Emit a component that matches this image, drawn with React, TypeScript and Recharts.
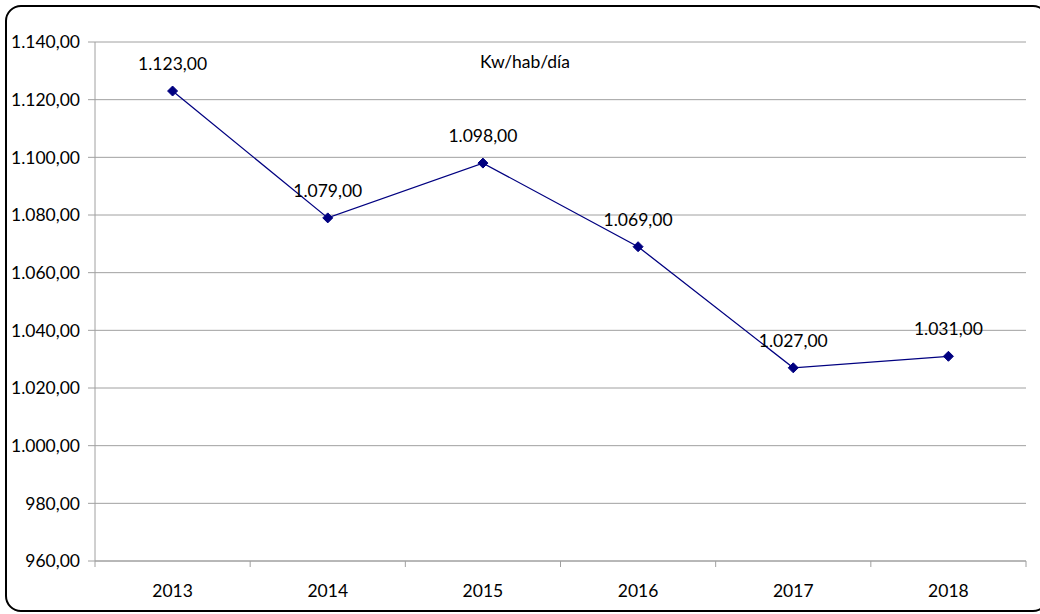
import { LineChart, Line, XAxis, YAxis, CartesianGrid, LabelList } from 'recharts'

const years = ['2013', '2014', '2015', '2016', '2017', '2018']
const consumo = [1123, 1079, 1098, 1069, 1027, 1031]
const yTicks = [960, 980, 1000, 1020, 1040, 1060, 1080, 1100, 1120, 1140]
const title = 'Kw/hab/día'

const data = years.map((y, i) => ({ year: y, value: consumo[i] }))

const FONT = 'Lato, "Open Sans", sans-serif'
const FS = 17.5
const GRID = '#a0a0a0'
const NAVY = '#000080'

function fmt(v: number) {
  const [int, dec] = v.toFixed(2).split('.')
  return `${int.replace(/\B(?=(\d{3})+(?!\d))/g, '.')},${dec}`
}

// eslint-disable-next-line @typescript-eslint/no-explicit-any
function Diamond({ cx, cy }: any) {
  if (cx == null || cy == null) return null
  const s = 5
  return (
    <polygon
      points={`${cx},${cy - s} ${cx + s},${cy} ${cx},${cy + s} ${cx - s},${cy}`}
      fill={NAVY}
      stroke={NAVY}
    />
  )
}

// ticks sit on the category boundaries, labels in the middle
// eslint-disable-next-line @typescript-eslint/no-explicit-any
function YearTick({ x, y, payload, index }: any) {
  const half = payload.offset || 77.6
  return (
    <g>
      <line x1={x - half} y1={y} x2={x - half} y2={y + 6} stroke={GRID} />
      {index === years.length - 1 && (
        <line x1={x + half} y1={y} x2={x + half} y2={y + 6} stroke={GRID} />
      )}
      <text x={x} y={y + 36} textAnchor="middle" fontSize={FS} fontFamily={FONT} fill="#000">
        {payload.value}
      </text>
    </g>
  )
}

export default function App() {
  return (
    <div style={{ position: 'absolute', left: 0, top: 0, width: 1040, height: 614, background: '#fff' }}>
      <div
        style={{
          position: 'absolute',
          left: 5,
          top: 5,
          width: 1040,
          height: 603,
          border: '2px solid #000',
          borderRadius: 16,
        }}
      />
      <div
        style={{
          position: 'absolute',
          left: 425,
          width: 200,
          top: 51,
          textAlign: 'center',
          fontFamily: FONT,
          fontSize: FS,
          color: '#000',
        }}
      >
        {title}
      </div>
      <LineChart
        width={1040}
        height={614}
        data={data}
        margin={{ top: 42, right: 14, left: 5, bottom: 23 }}
        style={{ position: 'absolute', left: 0, top: 0 }}
      >
        <CartesianGrid vertical={false} stroke={GRID} />
        <XAxis
          dataKey="year"
          scale="band"
          axisLine={{ stroke: GRID }}
          tickLine={false}
          tickSize={0}
          tickMargin={0}
          height={30}
          tick={<YearTick />}
          interval={0}
        />
        <YAxis
          domain={[960, 1140]}
          ticks={yTicks}
          tickFormatter={fmt}
          axisLine={{ stroke: GRID }}
          tickLine={{ stroke: GRID }}
          tickSize={7}
          tickMargin={8}
          width={90}
          tick={{ fill: '#000', fontSize: FS, fontFamily: FONT }}
        />
        <Line
          dataKey="value"
          stroke={NAVY}
          strokeWidth={1.3}
          dot={<Diamond />}
          activeDot={false}
          isAnimationActive={false}
        >
          <LabelList
            dataKey="value"
            position="top"
            offset={21}
            formatter={(v: number) => fmt(v)}
            style={{ fill: '#000', fontSize: FS, fontFamily: FONT }}
          />
        </Line>
      </LineChart>
    </div>
  )
}
